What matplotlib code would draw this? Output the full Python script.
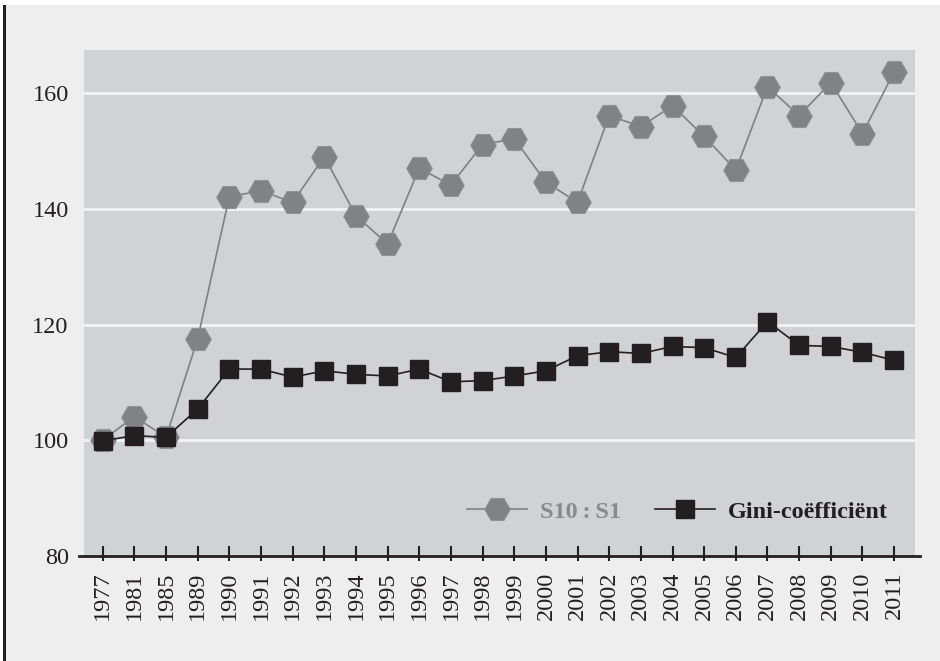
import matplotlib
matplotlib.use("Agg")
import matplotlib.pyplot as plt
from matplotlib.patches import Rectangle

years = ["1977", "1981", "1985", "1989", "1990", "1991", "1992", "1993", "1994",
         "1995", "1996", "1997", "1998", "1999", "2000", "2001", "2002", "2003",
         "2004", "2005", "2006", "2007", "2008", "2009", "2010", "2011"]
s10_s1 = [100.0, 104.1, 100.5, 117.5, 142.1, 143.1, 141.1, 149.0, 138.8,
          133.9, 147.0, 144.1, 151.1, 152.1, 144.6, 141.1, 156.1, 154.2,
          157.8, 152.5, 146.7, 161.1, 156.1, 161.8, 153.0, 163.6]
gini = [99.9, 100.8, 100.5, 105.4, 112.3, 112.3, 110.9, 112.0, 111.4,
        111.1, 112.3, 110.1, 110.3, 111.1, 112.0, 114.6, 115.3, 115.0,
        116.2, 116.0, 114.3, 120.5, 116.4, 116.2, 115.2, 113.8]
yticks = [80, 100, 120, 140, 160]

serif = ["Liberation Serif", "DejaVu Serif"]
plt.rcParams["font.family"] = serif

fig = plt.figure(figsize=(9.4, 6.61), dpi=100, facecolor="#eeeeee")
ax = fig.add_axes([84 / 940, 1 - 556 / 661, 831 / 940, 506 / 661])
ax.set_facecolor("#d1d2d4")

# frame bits around the figure
fig.patches.append(Rectangle((0, 1 - 5 / 661), 1, 5 / 661, transform=fig.transFigure,
                             facecolor="white", edgecolor="none", zorder=0))
fig.patches.append(Rectangle((0, 0), 3.3 / 940, 1, transform=fig.transFigure,
                             facecolor="white", edgecolor="none", zorder=0))
fig.patches.append(Rectangle((3.3 / 940, 0), 2.8 / 940, 1 - 5 / 661, transform=fig.transFigure,
                             facecolor="#231f20", edgecolor="none", zorder=1))

x = list(range(len(years)))
ax.plot(x, s10_s1, color="#808080", lw=1.2, marker="H", ms=18.5,
        markerfacecolor="#808285", markeredgecolor="#8e8f92", markeredgewidth=0.6,
        label="S10\u2009:\u2009S1", zorder=3)
ax.plot(x, gini, color="#231f20", lw=1.2, marker="s", ms=12.5,
        markerfacecolor="#231f20", markeredgecolor="#231f20",
        label="Gini-coëfficiënt", zorder=4)

ax.set_xlim(-0.59, 25.66)
ax.set_ylim(80, 167.43)
ax.set_yticks(yticks)
ax.set_yticklabels([str(v) for v in yticks])
for v in yticks[1:]:
    ax.axhline(v, color="#f3f3f3", lw=2, zorder=1)

for s in ax.spines.values():
    s.set_visible(False)
ax.plot([-0.006, 1.006], [0, 0], transform=ax.transAxes, color="#231f20",
        lw=2, clip_on=False, zorder=5)

ax.set_xticks(x)
ax.set_xticklabels(years, rotation=90)
ax.set_xticks(x, minor=True)
ax.xaxis.remove_overlapping_locs = False
ax.tick_params(axis="x", which="major", direction="in", length=7.5, width=1.5,
               color="#231f20", pad=11, labelsize=17.5, labelcolor="#231f20")
ax.tick_params(axis="x", which="minor", direction="out", length=3.8, width=1.5,
               color="#231f20")
ax.tick_params(axis="y", length=0, pad=11, labelsize=17.5, labelcolor="#231f20")

leg = ax.legend(loc="center right", ncol=2, frameon=False, handlelength=2.5,
                columnspacing=1.4, handletextpad=0.5, borderpad=0, borderaxespad=0,
                bbox_to_anchor=(0.967, 0.087),
                prop={"family": serif, "weight": "bold", "size": 17.5})
leg.get_texts()[0].set_color("#8a8a8c")
leg.get_texts()[1].set_color("#231f20")

fig.savefig("out.png", dpi=100, facecolor=fig.get_facecolor())
